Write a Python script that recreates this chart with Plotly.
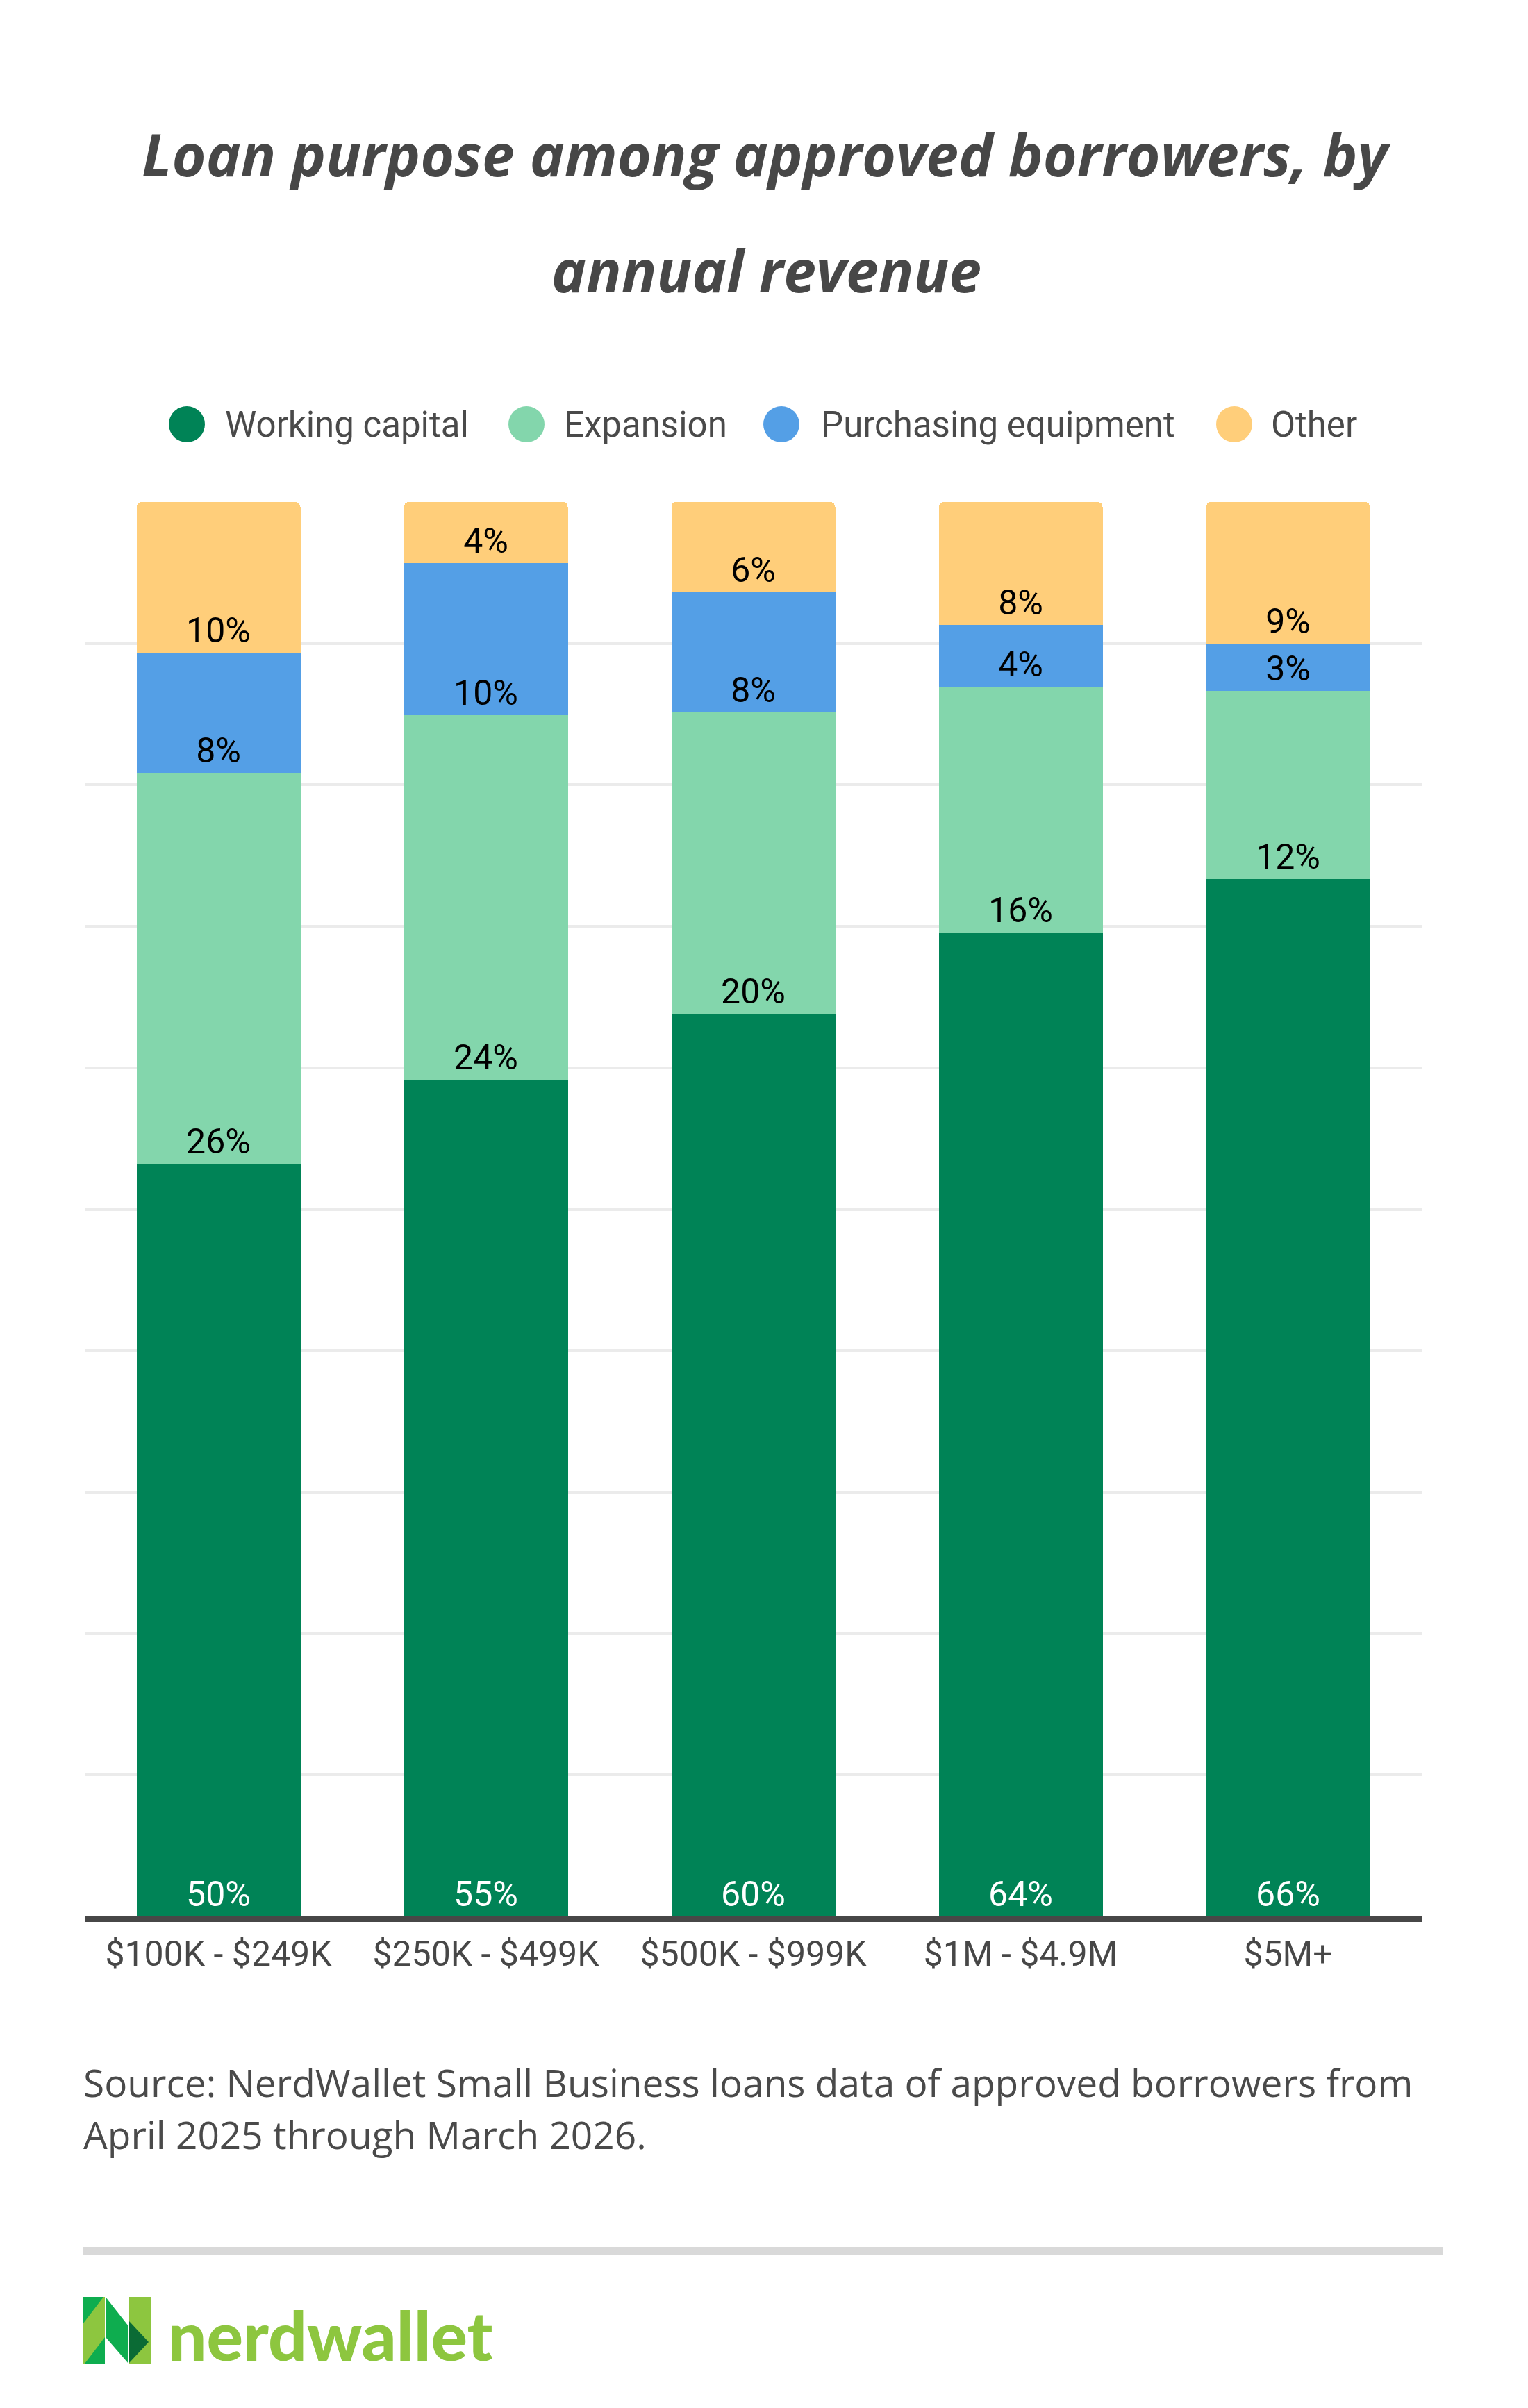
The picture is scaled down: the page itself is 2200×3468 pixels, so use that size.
import plotly.graph_objects as go

# ---------------- data ----------------
categories = ["$100K - $249K", "$250K - $499K", "$500K - $999K", "$1M - $4.9M", "$5M+"]
series_names = ["Working capital", "Expansion", "Purchasing equipment", "Other"]
working_capital = [50, 55, 60, 64, 66]
expansion = [26, 24, 20, 16, 12]
purchasing_equipment = [8, 10, 8, 4, 3]
other = [10, 4, 6, 8, 9]
series_values = [working_capital, expansion, purchasing_equipment, other]

colors = ["#008356", "#83D6AC", "#549FE6", "#FFCE7A"]
text_colors = ["#FFFFFF", "#000000", "#000000", "#000000"]

title_lines = ["Loan purpose among approved borrowers, by", "annual revenue"]
source_lines = ["Source: NerdWallet Small Business loans data of approved borrowers from",
                "April 2025 through March 2026."]

# ---------------- layout geometry (pixels) ----------------
W, H = 2200, 3468
L, R, T, B = 122, 2047, 723, 2760


def xp(X):
    return (X - L) / (R - L)


def yp(Y):
    return (B - Y) / (B - T)


fig = go.Figure()
for name, vals, col, tcol in zip(series_names, series_values, colors, text_colors):
    fig.add_trace(go.Bar(
        x=categories, y=vals, name=name,
        marker=dict(color=col, line=dict(width=0)),
        text=[f"{v}%" for v in vals],
        textposition="inside", insidetextanchor="start", textangle=0,
        textfont=dict(family="Roboto", size=50, color=tcol),
        hoverinfo="skip", showlegend=False,
    ))

annotations = []
shapes = []

# title
for line, yc in zip(title_lines, [221, 389]):
    annotations.append(dict(
        text=line, x=xp(1103), xref="paper", xanchor="center",
        y=yp(yc), yref="paper", yanchor="middle", showarrow=False,
        font=dict(family="Open Sans", size=84, color="#474747", weight="bold", style="italic"),
    ))

# legend (custom circles)
leg_marker_x = [269, 758, 1125, 1777]
leg_text_x = [322, 810, 1180, 1828]
leg_y = 611
for name, col, mx, tx in zip(series_names, colors, leg_marker_x, leg_text_x):
    shapes.append(dict(
        type="circle", xref="paper", yref="paper",
        xsizemode="pixel", ysizemode="pixel",
        xanchor=xp(mx), yanchor=yp(leg_y),
        x0=-26, x1=26, y0=-26, y1=26,
        fillcolor=col, line=dict(width=0),
    ))
    annotations.append(dict(
        text=name, x=xp(tx), xref="paper", xanchor="left",
        y=yp(leg_y), yref="paper", yanchor="middle", showarrow=False,
        font=dict(family="Roboto", size=51, color="#4A4A4A"),
    ))

# source
for line, yc in zip(source_lines, [2998, 3073]):
    annotations.append(dict(
        text=line, x=xp(118), xref="paper", xanchor="left",
        y=yp(yc), yref="paper", yanchor="middle", showarrow=False,
        font=dict(family="Open Sans", size=55, color="#4A4A4A"),
    ))

# separator
shapes.append(dict(type="line", xref="paper", yref="paper",
                   x0=xp(120), x1=xp(2078), y0=yp(3242), y1=yp(3242),
                   line=dict(color="#D9D9D9", width=12)))


def path(points):
    return "M " + " L ".join(f"{xp(x)},{yp(y)}" for x, y in points) + " Z"


logo_light = "#8DC63F"
logo_green = "#0EAD4F"
logo_dark = "#0B6B35"
logo_parts = [
    ([(120, 3308), (151, 3308), (151, 3404), (120, 3404)], logo_light),
    ([(120, 3308), (149, 3308), (120, 3346)], logo_green),
    ([(151, 3366), (151, 3404), (122, 3404)], logo_green),
    ([(152, 3308), (185, 3350), (185, 3404), (152, 3366)], logo_green),
    ([(186, 3308), (217, 3308), (217, 3404), (186, 3404)], logo_light),
    ([(186, 3343), (214, 3373), (186, 3403)], logo_dark),
]
for pts, col in logo_parts:
    shapes.append(dict(type="path", xref="paper", yref="paper", path=path(pts),
                       fillcolor=col, line=dict(width=0)))

annotations.append(dict(
    text="nerdwallet", x=xp(240), xref="paper", xanchor="left",
    y=yp(3362), yref="paper", yanchor="middle", showarrow=False,
    font=dict(family="Lato", size=98, color=logo_light, weight=900),
))

fig.update_layout(
    width=W, height=H,
    margin=dict(l=L, r=W - R, t=T, b=H - B, autoexpand=False),
    paper_bgcolor="white", plot_bgcolor="white",
    barmode="stack", barnorm="percent", bargap=0.387, barcornerradius=7,
    uniformtext=dict(minsize=50, mode="show"),
    showlegend=False,
    xaxis=dict(
        showline=True, linecolor="#474747", linewidth=8,
        ticks="", showgrid=False, zeroline=False,
        tickfont=dict(family="Roboto", size=50, color="#474747"),
        ticklabelstandoff=3,
    ),
    yaxis=dict(
        range=[0, 100], dtick=10, showgrid=True, gridcolor="#EBEBEB", gridwidth=3.5,
        showticklabels=False, zeroline=False, showline=False, ticks="",
    ),
    annotations=annotations, shapes=shapes,
)

fig.write_html("out.html")
